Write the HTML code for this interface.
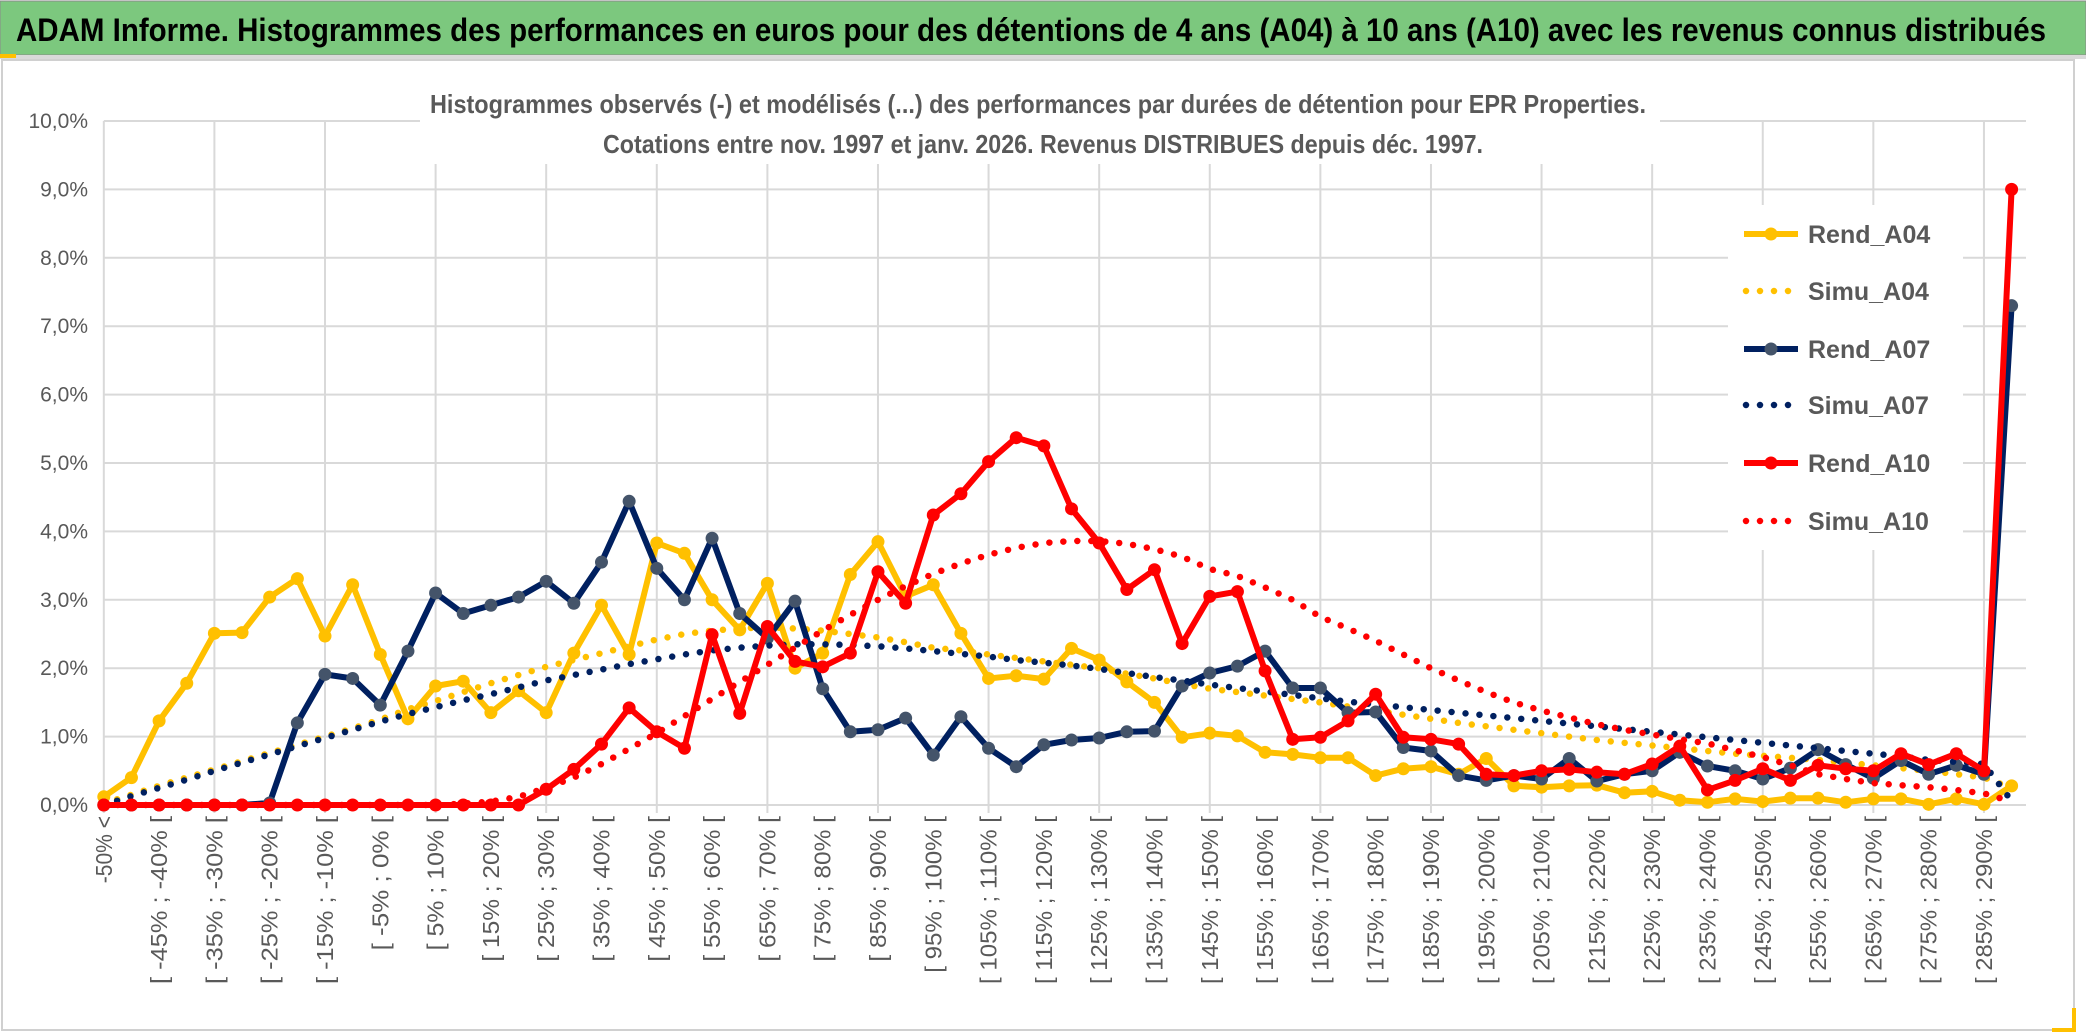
<!DOCTYPE html>
<html><head><meta charset="utf-8">
<style>
html,body{margin:0;padding:0;background:#fff;}
body{width:2086px;height:1033px;overflow:hidden;}
svg{display:block;font-family:"Liberation Sans",sans-serif;}
</style></head>
<body>
<svg id="chart" width="2086" height="1033" viewBox="0 0 2086 1033" xmlns="http://www.w3.org/2000/svg">
  <rect x="0" y="0" width="2086" height="1033" fill="#fff"/>
  <rect x="0" y="1" width="2086" height="54" fill="#7cc87e" stroke="#8a8a8a" stroke-width="1"/>
  <rect x="0" y="55" width="2086" height="4" fill="#d9d9d9"/>
  <rect x="0" y="54" width="16" height="4" fill="#ffc000"/>
  <text x="16" y="41" font-size="32" font-weight="bold" fill="#000" textLength="2030" lengthAdjust="spacingAndGlyphs">ADAM Informe. Histogrammes des performances en euros pour des détentions de 4 ans (A04) à 10 ans (A10) avec les revenus connus distribués</text>
  <rect x="2" y="60" width="2072" height="970" fill="none" stroke="#d0d0d0" stroke-width="2"/>
  <path d="M2052 1030 L2074 1030 L2074 1008" fill="none" stroke="#ffc000" stroke-width="4"/>
  <g id="grid"></g>
  <rect x="420" y="78" width="1240" height="86" fill="#fff"/>
  <text x="1038" y="113" text-anchor="middle" font-size="26" font-weight="bold" fill="#595959" textLength="1216" lengthAdjust="spacingAndGlyphs">Histogrammes observés (-) et modélisés (...) des performances par durées de détention pour EPR Properties.</text>
  <text x="1043" y="153" text-anchor="middle" font-size="26" font-weight="bold" fill="#595959" textLength="880" lengthAdjust="spacingAndGlyphs">Cotations entre nov. 1997 et janv. 2026. Revenus DISTRIBUES depuis déc. 1997.</text>
  <g id="yaxis"></g>
  <g id="xaxis"></g>
  <g id="series"></g>
  <g id="legend"></g>
</svg>
<script>
const categoriesStart = -50;
const categoriesStep = 5;
const yTicks = [0,1,2,3,4,5,6,7,8,9,10];
const rendA04 = [0.12,0.4,1.23,1.78,2.51,2.52,3.04,3.31,2.47,3.22,
2.2,1.26,1.74,1.81,1.35,1.67,1.35,2.22,2.92,2.2,
3.83,3.68,3.0,2.56,3.24,2.0,2.22,3.37,3.85,3.05,
3.22,2.51,1.85,1.89,1.84,2.29,2.12,1.8,1.5,0.99,
1.05,1.01,0.77,0.74,0.69,0.69,0.43,0.53,0.56,0.45,
0.68,0.28,0.26,0.28,0.29,0.18,0.2,0.07,0.04,0.09,
0.05,0.1,0.1,0.04,0.09,0.09,0.01,0.09,0.01,0.28];
const simuA04 = [0.02,0.15,0.28,0.4,0.52,0.64,0.76,0.88,1.0,1.12,
1.25,1.4,1.52,1.65,1.78,1.9,2.02,2.12,2.22,2.32,
2.42,2.5,2.55,2.58,2.6,2.58,2.55,2.5,2.45,2.38,
2.3,2.26,2.2,2.15,2.1,2.05,2.0,1.92,1.85,1.77,
1.7,1.65,1.6,1.55,1.5,1.44,1.38,1.32,1.26,1.2,
1.15,1.1,1.05,1.0,0.95,0.91,0.87,0.83,0.79,0.75,
0.72,0.69,0.66,0.62,0.58,0.54,0.5,0.45,0.4,0.25];
const rendA07 = [0,0,0,0,0,0,0.03,1.2,1.91,1.85,
1.46,2.25,3.1,2.8,2.92,3.04,3.27,2.95,3.55,4.44,
3.46,3.0,3.9,2.8,2.44,2.98,1.7,1.07,1.1,1.27,
0.73,1.29,0.83,0.56,0.88,0.95,0.98,1.07,1.08,1.74,
1.93,2.03,2.25,1.71,1.71,1.35,1.36,0.84,0.79,0.43,
0.36,0.43,0.38,0.68,0.35,0.45,0.5,0.77,0.57,0.5,
0.38,0.54,0.81,0.59,0.39,0.65,0.45,0.58,0.45,7.3];
const simuA07 = [0.0,0.13,0.25,0.37,0.5,0.62,0.74,0.86,0.98,1.1,
1.22,1.33,1.43,1.53,1.62,1.72,1.82,1.9,1.98,2.06,
2.13,2.2,2.26,2.3,2.33,2.35,2.35,2.34,2.32,2.29,
2.25,2.21,2.17,2.12,2.08,2.04,1.99,1.93,1.87,1.82,
1.76,1.71,1.66,1.61,1.56,1.51,1.47,1.43,1.39,1.35,
1.31,1.27,1.23,1.19,1.15,1.11,1.07,1.03,0.99,0.95,
0.91,0.87,0.83,0.79,0.75,0.71,0.66,0.63,0.6,0.06];
const rendA10 = [0,0,0,0,0,0,0,0,0,0,
0,0,0,0,0,0,0.23,0.52,0.89,1.42,
1.07,0.83,2.49,1.34,2.61,2.1,2.02,2.22,3.41,2.95,
4.24,4.55,5.02,5.37,5.25,4.33,3.83,3.15,3.44,2.36,
3.05,3.12,1.96,0.96,0.99,1.23,1.62,0.99,0.96,0.89,
0.45,0.43,0.5,0.52,0.48,0.45,0.6,0.86,0.22,0.36,
0.53,0.36,0.58,0.53,0.5,0.75,0.59,0.75,0.5,9.0];
const simuA10 = [0,0,0,0,0,0,0,0,0,0,
0,0,0,0.02,0.05,0.12,0.25,0.4,0.6,0.82,
1.05,1.3,1.55,1.8,2.05,2.3,2.55,2.78,3.0,3.2,
3.38,3.53,3.66,3.76,3.83,3.86,3.86,3.82,3.74,3.63,
3.45,3.35,3.18,3.0,2.75,2.58,2.4,2.2,2.0,1.82,
1.65,1.5,1.38,1.28,1.18,1.1,1.03,0.96,0.9,0.8,
0.7,0.58,0.45,0.38,0.32,0.29,0.26,0.22,0.17,0.05];

const NS = "http://www.w3.org/2000/svg";
const N = rendA04.length;
const X0 = 103.8, X1 = 2011.6, Y0 = 805, Y10 = 121;
function xPos(i){ return X0 + (X1 - X0) * i / (N - 1); }
function yPos(v){ return Y0 - (Y0 - Y10) * v / 10; }
function mk(tag, attrs, parent){ const e = document.createElementNS(NS, tag); for (const k in attrs) e.setAttribute(k, attrs[k]); parent.appendChild(e); return e; }
function catLabel(i){
  if (i === 0) return categoriesStart + "% <";
  const a = categoriesStart + categoriesStep * (i - 1), b = a + categoriesStep;
  return "[ " + a + "% ; " + b + "% [";
}

const grid = document.getElementById('grid');
yTicks.forEach(t => {
  const l = mk('line', {x1: X0, x2: 2026, y1: yPos(t), y2: yPos(t), stroke: '#d9d9d9', 'stroke-width': 2}, grid);
  
  
});
for (let i = 0; i < N; i += 4) {
  const l = mk('line', {x1: xPos(i), x2: xPos(i), y1: Y10, y2: Y0 + 8, stroke: '#d9d9d9', 'stroke-width': 2}, grid);
  
  
}

const yaxis = document.getElementById('yaxis');
yTicks.forEach(t => {
  const tx = mk('text', {x: 88, y: yPos(t) + 7, 'text-anchor': 'end', 'font-size': 21, fill: '#595959'}, yaxis);
  tx.textContent = t.toFixed(1).replace('.', ',') + '%';
  
  
});

const xaxis = document.getElementById('xaxis');
for (let i = 0; i < N; i += 2) {
  const x = xPos(i) + 8, y = 816;
  const lbl = catLabel(i);
  const tx = mk('text', {x: x, y: y, 'text-anchor': 'end', 'font-size': 23, fill: '#595959', textLength: (lbl.length * 11.2).toFixed(1), lengthAdjust: 'spacingAndGlyphs', transform: 'rotate(-90 ' + x + ' ' + y + ')'}, xaxis);
  tx.textContent = lbl;
  
  
}

const seriesG = document.getElementById('series');
function pts(arr){ return arr.map((v, i) => xPos(i).toFixed(1) + ',' + yPos(v).toFixed(1)).join(' '); }
function drawRend(arr, color, markerColor, name){
  const g = mk('g', {}, seriesG);
  
  
  const pl = mk('polyline', {points: pts(arr), fill: 'none', stroke: color, 'stroke-width': 6, 'stroke-linejoin': 'round', 'stroke-linecap': 'round'}, g);
  
  
  arr.forEach((v, i) => {
    const c = mk('circle', {cx: xPos(i), cy: yPos(v), r: 6.5, fill: markerColor}, g);
    
    
  });
}
function drawSimu(arr, color, name){
  const pl = mk('polyline', {points: pts(arr), fill: 'none', stroke: color, 'stroke-width': 6.5, 'stroke-linecap': 'round', 'stroke-dasharray': '0 14', 'stroke-linejoin': 'round'}, seriesG);
  
  
}
drawRend(rendA04, '#ffc000', '#ffc000', 'rend-a04');
drawSimu(simuA04, '#ffc000', 'simu-a04');
drawRend(rendA07, '#002060', '#44546a', 'rend-a07');
drawSimu(simuA07, '#002060', 'simu-a07');
drawRend(rendA10, '#ff0000', '#ff0000', 'rend-a10');
drawSimu(simuA10, '#ff0000', 'simu-a10');

const legend = document.getElementById('legend');
const lbg = mk('rect', {x: 1728, y: 205, width: 235, height: 345, fill: '#fff'}, legend);


const legItems = [['Rend_A04','#ffc000','#ffc000',false],['Simu_A04','#ffc000','',true],['Rend_A07','#002060','#44546a',false],['Simu_A07','#002060','',true],['Rend_A10','#ff0000','#ff0000',false],['Simu_A10','#ff0000','',true]];
const legY = [234, 291, 349, 405, 463, 521];
legItems.forEach((it, k) => {
  const g = mk('g', {}, legend);
  
  
  const y = legY[k];
  if (it[3]) {
    mk('line', {x1: 1746, x2: 1796, y1: y, y2: y, stroke: it[1], 'stroke-width': 6.5, 'stroke-linecap': 'round', 'stroke-dasharray': '0 14'}, g);
  } else {
    mk('line', {x1: 1744, x2: 1798, y1: y, y2: y, stroke: it[1], 'stroke-width': 6}, g);
    mk('circle', {cx: 1771, cy: y, r: 6.5, fill: it[2]}, g);
  }
  const t = mk('text', {x: 1808, y: y + 9, 'font-size': 25, 'font-weight': 'bold', fill: '#595959'}, g);
  t.textContent = it[0];
});
</script>
</body></html>
